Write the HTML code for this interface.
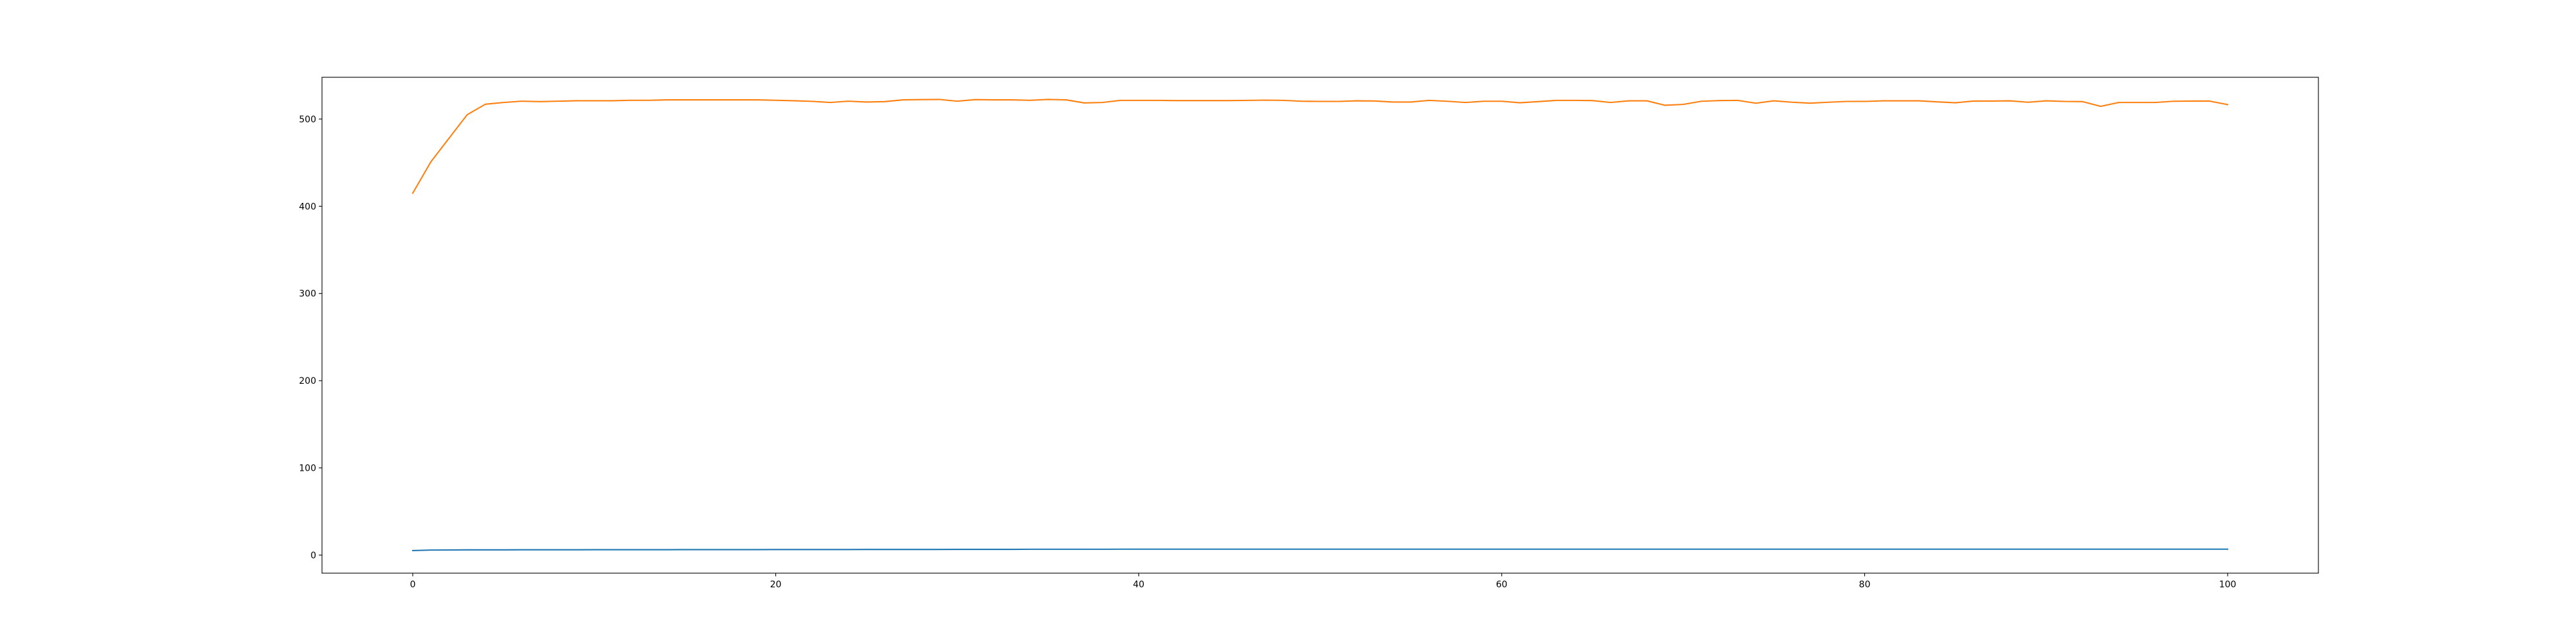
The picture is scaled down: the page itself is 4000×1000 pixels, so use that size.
<!DOCTYPE html>
<html><head><meta charset="utf-8"><style>html,body{margin:0;padding:0;background:#fff}svg{display:block}text{font-family:"DejaVu Sans","Liberation Sans",sans-serif;font-size:14px;fill:#000}</style></head>
<body>
<svg id="chart" width="4000" height="1000" xmlns="http://www.w3.org/2000/svg">
<rect x="0" y="0" width="4000" height="1000" fill="#fff"/>
<g id="plot"></g>
</svg>
<script>
const xValues = Array.from({length:101},(_,i)=>i);
const orangeValues = [415,451,478,505,517,519,520.5,520,520.5,521,521,521,521.5,521.5,522,522,522,522,522,522,521.5,521,520.3,519,520.5,519.5,520,522,522.3,522.5,520.5,522.3,522,522,521.5,522.5,522,518.5,519,521.4,521.4,521.4,521.2,521.2,521.2,521.2,521.4,521.7,521.4,520.4,520.2,520.2,520.9,520.7,519.5,519.5,521.4,520.4,519,520.4,520.4,518.7,520,521.4,521.4,521.2,519,520.9,520.9,515.8,516.8,520.4,521.2,521.4,518.2,520.9,519.3,518.2,519.3,520.2,520.2,520.9,520.9,520.9,519.7,518.7,520.6,520.6,520.9,519.3,520.9,520.2,520,514.6,519,519,519,520.4,520.6,520.6,516.6];
const blueValues = [5.2,5.8,5.9,6.0,6.0,6.0,6.1,6.1,6.1,6.1,6.2,6.2,6.2,6.2,6.2,6.3,6.3,6.3,6.3,6.3,6.4,6.4,6.4,6.4,6.4,6.5,6.5,6.5,6.5,6.5,6.6,6.6,6.6,6.6,6.7,6.7,6.7,6.7,6.7,6.8,6.8,6.8,6.8,6.8,6.8,6.8,6.8,6.8,6.8,6.8,6.8,6.8,6.8,6.8,6.8,6.8,6.8,6.8,6.8,6.8,6.8,6.8,6.8,6.8,6.8,6.8,6.8,6.8,6.8,6.8,6.8,6.8,6.8,6.8,6.8,6.8,6.8,6.8,6.8,6.8,6.8,6.8,6.8,6.8,6.8,6.8,6.8,6.8,6.8,6.8,6.8,6.8,6.8,6.8,6.8,6.8,6.8,6.8,6.8,6.8,6.8];
const xTicks = [0,20,40,60,80,100];
const yTicks = [0,100,200,300,400,500];

const L=500,R=3600,T=120,B=890;
const xMin=-5,xMax=105,yMin=-20.7,yMax=547.9;
const sx=v=>L+(v-xMin)/(xMax-xMin)*(R-L);
const sy=v=>B-(v-yMin)/(yMax-yMin)*(B-T);
const NS='http://www.w3.org/2000/svg';
const g=document.getElementById('plot');
function mk(tag,attrs){const e=document.createElementNS(NS,tag);for(const k in attrs)e.setAttribute(k,attrs[k]);g.appendChild(e);return e;}

function line(vals,color,name){
  const p=mk('polyline',{points:vals.map((v,i)=>sx(xValues[i]).toFixed(2)+','+sy(v).toFixed(2)).join(' '),fill:'none',stroke:color,'stroke-width':2.08,'stroke-linejoin':'round','stroke-linecap':'square'});
  
  
}
line(blueValues,'#1f77b4','blue-series-line');
line(orangeValues,'#ff7f0e','orange-series-line');

const frame=mk('rect',{x:L,y:T,width:R-L,height:B-T,fill:'none',stroke:'#000','stroke-width':1.1});



xTicks.forEach(t=>{
  const x=sx(t);
  const tk=mk('line',{x1:x,x2:x,y1:B,y2:B+4.9,stroke:'#000','stroke-width':1.1});
  
  
  const lb=mk('text',{x:x,y:B+22,'text-anchor':'middle'});
  lb.textContent=t;
  
  
});
yTicks.forEach(t=>{
  const y=sy(t);
  const tk=mk('line',{x1:L-4.9,x2:L,y1:y,y2:y,stroke:'#000','stroke-width':1.1});
  
  
  const lb=mk('text',{x:L-9,y:y+5,'text-anchor':'end'});
  lb.textContent=t;
  
  
});
</script>
</body></html>
